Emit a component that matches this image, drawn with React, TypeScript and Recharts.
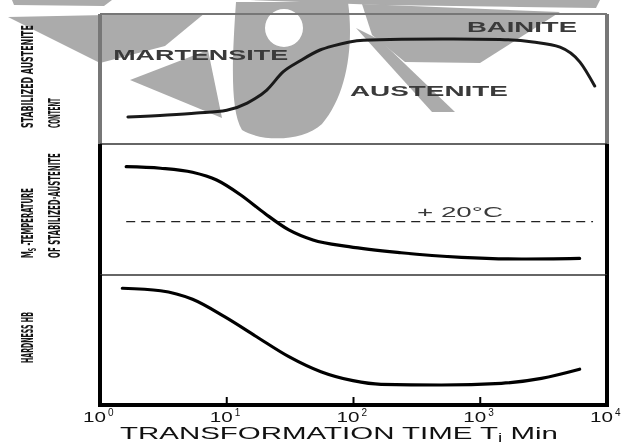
import React, { useLayoutEffect, useRef, useState } from 'react';
import { LineChart, Line, XAxis, YAxis, ReferenceDot, Customized } from 'recharts';

// Transformation time (minutes) and relative panel values (0-100 of each panel's height)
const austeniteTime = [1.66, 3.4, 5.8, 10, 14.5, 20.7, 27.8, 38, 54.4, 69, 120, 240, 500, 1430, 2600, 4260, 6120, 8000];
const austeniteContent = [20.8, 22.3, 23.8, 26, 31.5, 41.5, 55.4, 64, 72.3, 75.5, 79.8, 80.6, 80.8, 80.4, 78.5, 74.5, 63, 44.6];

const msTime = [1.61, 3.0, 5.37, 8.32, 12.9, 19.9, 30.9, 47.9, 92, 237, 710, 2113, 6080];
const msTemperature = [82.7, 81.5, 78.4, 72.5, 61.1, 47.1, 34.4, 26.7, 21.6, 17.0, 13.5, 12.2, 12.7];

const hardnessTime = [1.5, 3.0, 5.37, 9.6, 17.2, 30.9, 55.3, 99, 165, 492, 1469, 3041, 6080];
const hardnessHB = [89.8, 87.9, 81.3, 67.9, 52.5, 37.2, 25.6, 18.7, 15.9, 15.4, 16.7, 20.5, 27.5];

const roomTempTime = [1.61, 7760];
const roomTempLevel = [40.7, 40.7];

const xTicks = [1, 10, 100, 1000, 10000];

const phaseLabels = ['MARTENSITE', 'BAINITE', 'AUSTENITE'];
const phaseLabelTime = [1.27, 786, 93.8];
const phaseLabelLevel = [64.6, 86.2, 36.9];

const roomTempLabel = '+ 20°C';
const roomTempLabelTime = 317;
const roomTempLabelLevel = 44.5;

const SANS = '"Liberation Sans", Arial, Helvetica, sans-serif';
const NARROW = '"Liberation Sans Narrow", "DejaVu Sans Condensed", "Liberation Sans", sans-serif';

const labelWidths: Record<string, number> = {
  MARTENSITE: 175,
  BAINITE: 110,
  AUSTENITE: 158,
  '+ 20°C': 86,
};

const rows = (ts: number[], vs: number[]) => ts.map((t, i) => ({ t, v: vs[i] }));

type Part = { text: string; sub?: boolean };
type TitleLine = { parts: Part[]; dx: number; len: number };

const TITLE_SIZE = 16;

// Text squeezed along its own direction to a given length (glyph height kept)
function FitText(props: { x: number; y: number; len: number; parts: Part[] }) {
  const { x, y, len, parts } = props;
  const ref = useRef<SVGTextElement>(null);
  const [sx, setSx] = useState(1);
  useLayoutEffect(() => {
    if (ref.current) {
      const natural = ref.current.getComputedTextLength();
      if (natural > 0) setSx(len / natural);
    }
  }, [len]);
  let prevSub = false;
  return (
    <text
      ref={ref}
      x={0}
      y={0}
      transform={`translate(${x} ${y}) rotate(-90) scale(${sx} 1)`}
      fontFamily={NARROW}
      fontSize={TITLE_SIZE}
      fontWeight={700}
      fill="#151515"
    >
      {parts.map((p, j) => {
        const dy = p.sub ? 2.5 : prevSub ? -2.5 : 0;
        prevSub = !!p.sub;
        return (
          <tspan key={j} dy={dy} fontSize={p.sub ? 11 : TITLE_SIZE}>
            {p.text}
          </tspan>
        );
      })}
    </text>
  );
}

function PanelTitle(props: any) {
  const { viewBox, lines, gap } = props;
  const vb = viewBox || { x: 99, y: 0, width: 1, height: 0 };
  const axisX = vb.x + vb.width;
  const startY = vb.y + vb.height - gap;
  return (
    <g>
      {(lines as TitleLine[]).map((ln, i) => (
        <FitText key={i} x={axisX + ln.dx} y={startY} len={ln.len} parts={ln.parts} />
      ))}
    </g>
  );
}

function XTitle(props: any) {
  const vb = props.viewBox || { x: 100, y: 405, width: 507, height: 37 };
  const x = vb.x + 20;
  const y = vb.y + 34;
  return (
    <text x={x} y={y} fontFamily={SANS} fontSize={17} fill="#111" textLength={438} lengthAdjust="spacingAndGlyphs">
      <tspan>TRANSFORMATION TIME T</tspan>
      <tspan fontSize={11} dy={2}>j</tspan>
      <tspan dy={-2}> Min</tspan>
    </text>
  );
}

function PowerTick(props: any) {
  const { x, y, payload } = props;
  const exp = Math.round(Math.log10(payload.value));
  return (
    <g>
      <line x1={x} x2={x} y1={y - 8} y2={y} stroke="#000" strokeWidth={2} />
      <text x={x - 17} y={y + 17} fontFamily={SANS} fontSize={15} fill="#111" textLength={23} lengthAdjust="spacingAndGlyphs">
        10
      </text>
      <text x={x + 8} y={y + 11} fontFamily={SANS} fontSize={10} fill="#111">
        {exp}
      </text>
    </g>
  );
}

function Caption(props: any) {
  const { viewBox, caption, bold } = props;
  const vb = viewBox || { x: 0, y: 0 };
  return (
    <text
      x={vb.x}
      y={vb.y}
      fontFamily={SANS}
      fontSize={15}
      fontWeight={bold ? 700 : 400}
      fill="#3a3a3a"
      textLength={labelWidths[caption]}
      lengthAdjust="spacingAndGlyphs"
    >
      {caption}
    </text>
  );
}

function Watermark() {
  const fill = '#ababab';
  return (
    <g style={{ mixBlendMode: 'multiply' }} pointerEvents="none">
      <polygon points="12,0 112,0 104,6 14,5" fill={fill} />
      <polygon points="250,0 600,0 596,8 520,7 380,5" fill={fill} />
      <polygon points="8,17 205,13 165,46 100,63" fill={fill} />
      <polygon points="130,80 208,50 222,118" fill={fill} />
      <path
        fill={fill}
        fillRule="evenodd"
        d="M 236 2 L 348 2 C 354 45 347 95 322 124 C 302 142 262 142 242 130 C 230 110 232 60 236 2 Z
           M 265 28 A 19 19 0 1 0 303 28 A 19 19 0 1 0 265 28 Z"
      />
      <polygon points="362,4 560,12 480,63 405,62 372,35" fill={fill} />
      <polygon points="356,28 380,40 455,112 432,112" fill={fill} />
    </g>
  );
}

const topTitle: TitleLine[] = [
  { parts: [{ text: 'STABILIZED AUSTENITE' }], dx: -67, len: 103 },
  { parts: [{ text: 'CONTENT' }], dx: -40, len: 30 },
];
const midTitle: TitleLine[] = [
  { parts: [{ text: 'M' }, { text: 'S', sub: true }, { text: ' -TEMPERATURE' }], dx: -67, len: 70 },
  { parts: [{ text: 'OF STABILIZED·AUSTENITE' }], dx: -40, len: 105 },
];
const botTitle: TitleLine[] = [{ parts: [{ text: 'HARDNESS HB' }], dx: -67, len: 51 }];

const xAxisCommon = {
  xAxisId: 'x',
  dataKey: 't',
  type: 'number' as const,
  scale: 'log' as const,
  domain: [1, 10000],
  allowDataOverflow: true,
};

const yAxisCommon = {
  domain: [0, 100],
  width: 1,
  tick: false,
  tickLine: false,
  allowDataOverflow: true,
};

export default function App() {
  const grey = '#777';
  return (
    <div style={{ position: 'absolute', left: 0, top: 0, width: 629, height: 442, background: '#fff', overflow: 'hidden' }}>
      {/* Panel 1: stabilized austenite content */}
      <div style={{ position: 'absolute', left: 0, top: 0 }}>
        <LineChart width={629} height={146} data={rows(austeniteTime, austeniteContent)} margin={{ top: 13, right: 21, bottom: 2, left: 99 }}>
          <XAxis {...xAxisCommon} orientation="top" height={1} tick={false} tickLine={false} axisLine={{ stroke: grey, strokeWidth: 2 }} />
          <YAxis {...yAxisCommon} yAxisId="y" axisLine={{ stroke: grey, strokeWidth: 4 }} label={<PanelTitle lines={topTitle} gap={16} />} />
          <YAxis {...yAxisCommon} yAxisId="r" orientation="right" axisLine={{ stroke: grey, strokeWidth: 4 }} />
          <Line xAxisId="x" yAxisId="y" dataKey="v" type="monotone" stroke="#1a1a1a" strokeWidth={3} strokeLinecap="round" dot={false} activeDot={false} isAnimationActive={false} />
          {phaseLabels.map((c, i) => (
            <ReferenceDot
              key={c}
              xAxisId="x"
              yAxisId="y"
              x={phaseLabelTime[i]}
              y={phaseLabelLevel[i]}
              r={0}
              fill="none"
              stroke="none"
              label={<Caption caption={c} bold />}
            />
          ))}
          <Customized component={Watermark} />
        </LineChart>
      </div>

      {/* Panel 2: Ms temperature */}
      <div style={{ position: 'absolute', left: 0, top: 142 }}>
        <LineChart width={629} height={135} data={rows(msTime, msTemperature)} margin={{ top: 1, right: 21, bottom: 2, left: 99 }}>
          <XAxis {...xAxisCommon} orientation="top" height={1} tick={false} tickLine={false} axisLine={{ stroke: '#333', strokeWidth: 1.5 }} />
          <YAxis {...yAxisCommon} yAxisId="y" axisLine={{ stroke: '#000', strokeWidth: 4 }} label={<PanelTitle lines={midTitle} gap={17} />} />
          <YAxis {...yAxisCommon} yAxisId="r" orientation="right" axisLine={{ stroke: '#000', strokeWidth: 4 }} />
          <Line xAxisId="x" yAxisId="y" data={rows(roomTempTime, roomTempLevel)} dataKey="v" type="linear" stroke="#222" strokeWidth={1.3} strokeDasharray="9 6" dot={false} activeDot={false} isAnimationActive={false} />
          <Line xAxisId="x" yAxisId="y" dataKey="v" type="monotone" stroke="#000" strokeWidth={3.2} strokeLinecap="round" dot={false} activeDot={false} isAnimationActive={false} />
          <ReferenceDot xAxisId="x" yAxisId="y" x={roomTempLabelTime} y={roomTempLabelLevel} r={0} fill="none" stroke="none" label={<Caption caption={roomTempLabel} />} />
        </LineChart>
      </div>

      {/* Panel 3: hardness */}
      <div style={{ position: 'absolute', left: 0, top: 273 }}>
        <LineChart width={629} height={169} data={rows(hardnessTime, hardnessHB)} margin={{ top: 1, right: 21, bottom: 0, left: 99 }}>
          <XAxis {...xAxisCommon} xAxisId="xt" orientation="top" height={1} tick={false} tickLine={false} axisLine={{ stroke: '#333', strokeWidth: 1.5 }} />
          <XAxis
            {...xAxisCommon}
            orientation="bottom"
            height={37}
            ticks={xTicks}
            interval={0}
            tickSize={0}
            tickMargin={0}
            tickLine={false}
            tick={<PowerTick />}
            axisLine={{ stroke: '#000', strokeWidth: 4, strokeLinecap: 'square' }}
            label={<XTitle />}
          />
          <YAxis {...yAxisCommon} yAxisId="y" axisLine={{ stroke: '#000', strokeWidth: 4 }} label={<PanelTitle lines={botTitle} gap={42} />} />
          <YAxis {...yAxisCommon} yAxisId="r" orientation="right" axisLine={{ stroke: '#000', strokeWidth: 4 }} />
          <Line xAxisId="x" yAxisId="y" dataKey="v" type="monotone" stroke="#000" strokeWidth={3.2} strokeLinecap="round" dot={false} activeDot={false} isAnimationActive={false} />
        </LineChart>
      </div>
    </div>
  );
}
